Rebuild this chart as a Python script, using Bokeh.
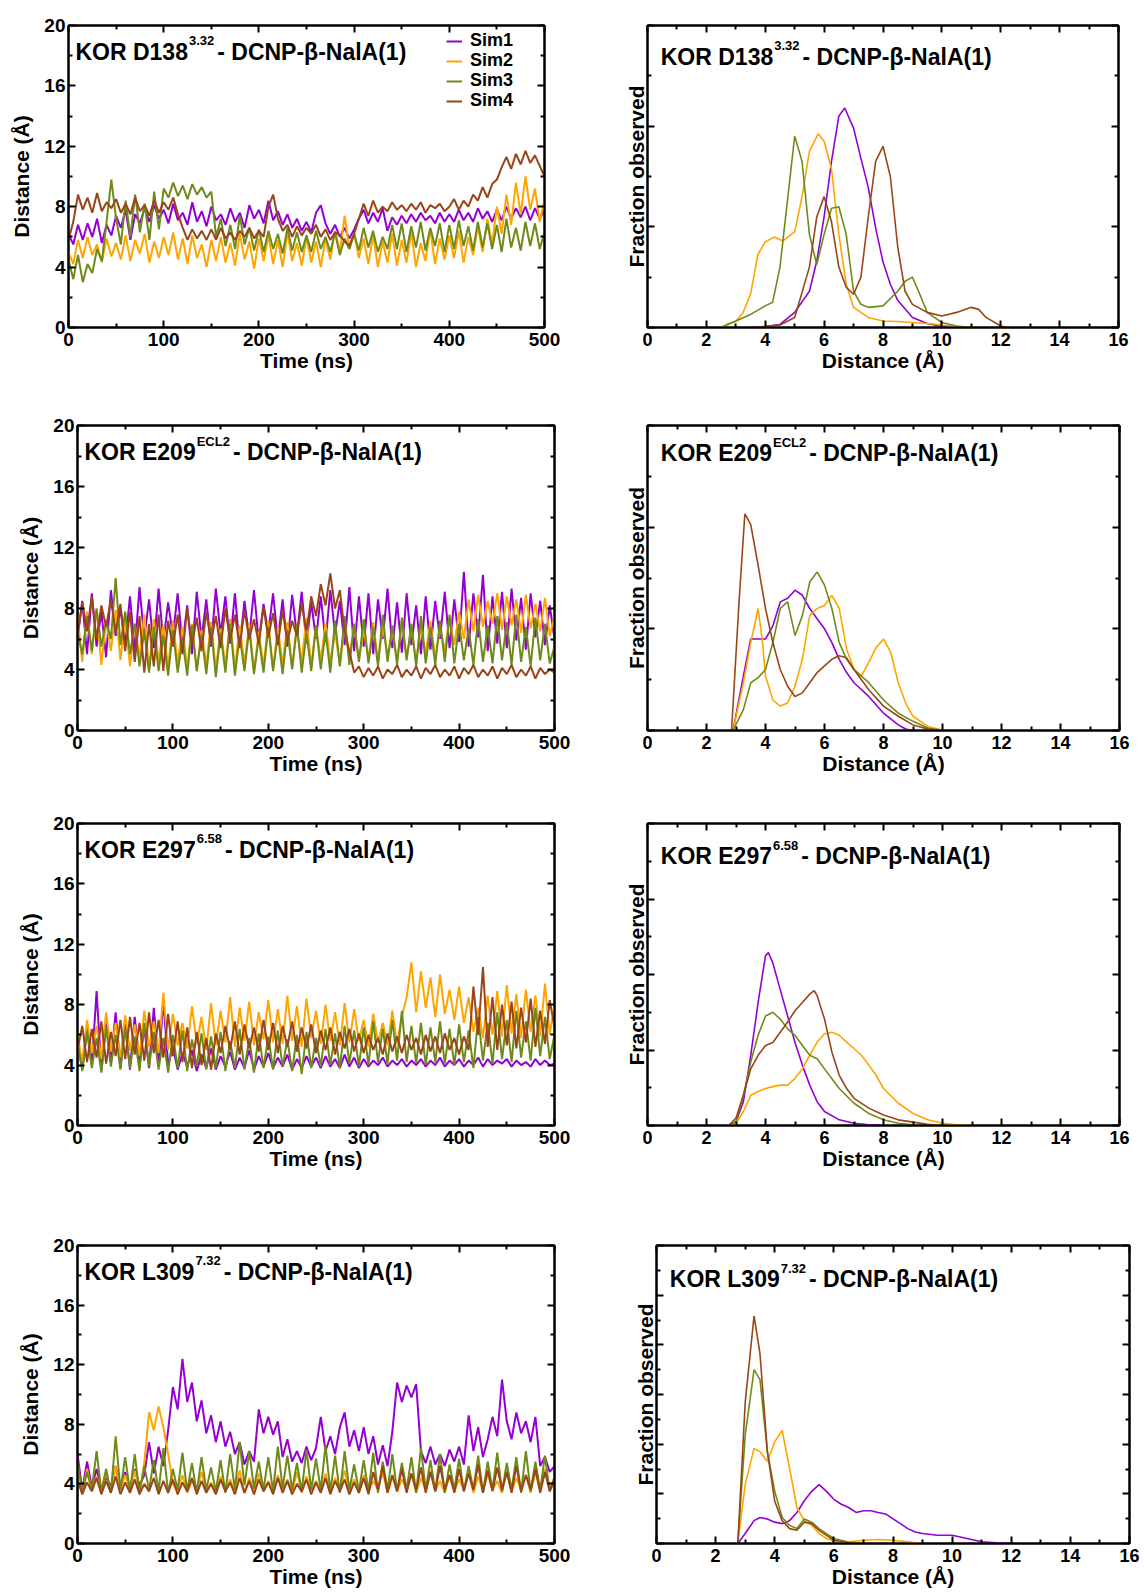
from bokeh.plotting import figure
from bokeh.models import Range1d, LinearAxis, FixedTicker, Label, Legend, LegendItem, Grid
from bokeh.layouts import column, row
from bokeh.embed import file_html
from bokeh.resources import INLINE

# ---------------- data ----------------
sim_names = ["Sim1", "Sim2", "Sim3", "Sim4"]
sim_colors = ["#9400D3", "#FFA500", "#6E8B1A", "#9A4519"]

time_ns = list(range(0, 505, 5))

# Panel 1: KOR D138(3.32)
d138_sim1 = [6.2,5.5,6.8,5.8,6.9,6.0,7.2,5.6,6.8,6.1,
             7.4,6.6,7.8,5.8,7.5,6.9,7.9,7.0,8.1,7.2,
             7.8,6.9,8.2,7.1,7.6,6.8,8.3,7.0,7.7,6.7,
             8.0,7.1,7.5,6.8,7.9,7.0,7.6,6.6,8.1,7.2,
             7.8,6.9,8.4,7.1,7.7,6.8,7.5,6.6,7.2,6.4,
             7.0,6.3,7.6,8.1,6.9,6.2,6.8,6.0,6.6,5.9,
             6.5,7.2,7.8,6.9,7.6,7.0,7.9,6.4,7.3,6.8,
             7.4,6.9,7.5,7.0,7.6,7.1,7.4,6.9,7.6,7.0,
             7.5,7.0,7.8,7.1,7.6,7.0,7.9,7.2,7.7,7.0,
             7.8,7.1,8.0,7.2,7.9,7.3,8.0,7.1,7.9,7.2,
             7.8]
d138_sim2 = [5.0,4.2,5.8,4.6,6.0,4.8,5.5,4.3,5.9,4.7,
             5.6,4.5,6.1,4.4,5.8,4.9,6.2,4.3,5.7,4.6,
             6.0,4.8,6.3,4.5,5.9,4.2,6.1,4.6,5.5,4.0,
             5.8,4.4,6.0,4.3,5.6,4.1,6.2,4.5,5.7,3.9,
             5.9,4.4,6.1,4.2,5.8,4.0,6.3,4.4,5.6,4.1,
             6.0,4.3,5.7,4.0,5.9,4.5,6.4,5.0,7.4,5.2,
             6.2,4.6,5.9,4.2,6.1,4.0,5.7,4.3,6.2,4.1,
             5.8,4.3,6.3,4.0,5.6,4.4,6.5,4.2,5.9,4.5,
             6.1,4.6,6.4,4.3,6.0,4.8,6.7,5.0,7.2,5.5,
             8.0,6.2,8.8,6.8,9.6,7.5,10.0,7.8,9.2,7.0,
             8.5]
d138_sim3 = [4.5,3.2,4.8,3.0,4.2,3.6,5.2,4.4,7.0,9.8,
             7.2,5.5,8.4,6.0,8.8,6.3,8.2,5.8,9.0,6.5,
             9.2,8.6,9.6,8.7,9.4,8.5,9.5,8.8,9.3,8.6,
             9.0,6.0,7.2,5.4,6.8,5.2,7.4,5.5,6.6,5.1,
             6.5,5.0,6.4,5.2,6.2,4.9,6.6,5.1,6.3,5.0,
             6.1,5.0,6.4,5.2,6.0,5.0,6.3,4.8,5.9,5.2,
             6.2,5.1,6.6,5.3,6.4,5.0,6.0,5.2,6.8,5.2,
             6.9,5.0,6.7,5.3,7.0,5.1,6.6,5.4,6.9,5.0,
             6.8,5.2,7.1,5.4,6.7,5.1,7.0,5.3,6.9,5.2,
             6.8,5.0,7.2,5.3,6.6,5.1,7.0,5.4,6.9,5.2,
             6.3]
d138_sim4 = [5.8,7.0,8.8,7.8,8.6,7.6,8.9,7.7,8.3,7.9,
             8.5,7.6,8.2,7.5,8.6,7.7,8.1,7.4,8.4,7.6,
             8.3,7.8,8.6,7.5,6.6,5.8,6.5,5.9,6.4,5.8,
             6.5,5.8,6.6,5.9,6.3,5.8,6.4,6.0,6.6,5.9,
             6.4,6.0,8.0,8.8,7.2,6.4,6.8,6.0,6.7,6.1,
             6.6,6.2,6.8,6.0,6.5,5.8,6.3,6.1,5.7,5.4,
             6.2,7.2,8.2,7.4,8.4,7.6,8.0,7.7,8.3,7.8,
             8.1,7.7,8.2,7.8,8.3,7.6,8.1,7.9,8.2,7.7,
             8.0,8.5,7.8,8.4,8.0,8.8,8.4,9.3,8.6,9.5,
             9.8,10.6,11.3,10.5,11.5,10.8,11.7,10.9,11.4,10.7,
             10.0]

# Panel 2: KOR E209(ECL2)
e209_sim1 = [6.0,8.5,5.0,9.0,5.5,7.8,4.8,9.2,6.2,8.0,
             5.6,8.8,5.2,9.4,6.0,8.6,5.4,9.3,5.8,8.4,
             6.2,9.0,5.6,8.2,5.0,9.1,6.0,8.6,5.5,9.3,
             6.3,8.8,5.7,9.0,5.4,8.5,6.1,9.2,5.8,8.3,
             6.4,9.0,5.9,8.6,5.5,8.9,6.2,9.1,5.7,8.4,
             6.0,8.8,5.8,9.2,6.3,8.5,5.6,9.4,5.2,8.8,
             5.5,9.0,5.0,8.6,6.0,9.3,5.4,8.4,5.1,9.0,
             5.6,8.2,5.0,8.8,5.3,8.5,6.0,9.1,5.4,8.6,
             5.8,10.4,5.5,9.0,6.1,10.2,5.2,8.8,5.7,9.1,
             5.4,9.3,5.9,8.7,5.3,9.0,6.1,8.5,5.6,8.2,
             6.0]
e209_sim2 = [7.5,4.5,7.8,5.0,8.0,4.3,7.2,5.2,7.9,4.6,
             7.4,4.2,7.0,4.8,7.6,4.0,7.3,4.5,6.9,4.1,
             7.2,4.4,6.8,4.1,7.0,3.9,6.6,4.3,7.1,4.0,
             6.7,4.2,7.3,4.1,6.9,4.4,7.0,3.9,6.5,4.2,
             7.2,4.0,6.8,4.3,7.1,4.1,6.6,4.5,7.4,4.2,
             6.9,4.6,7.0,4.5,6.4,4.3,6.8,4.8,7.0,4.6,
             6.6,4.7,7.1,4.5,6.8,4.9,6.5,4.6,7.0,4.8,
             6.7,4.5,6.9,5.0,7.2,4.7,6.8,5.2,7.4,5.6,
             7.8,6.0,8.6,6.5,8.9,6.8,8.5,7.0,9.0,6.6,
             8.8,6.9,8.6,6.4,8.9,6.7,8.3,6.5,8.7,6.2,
             7.5]
e209_sim3 = [6.5,5.0,7.5,5.2,8.0,5.5,7.2,6.0,10.0,5.6,
             7.8,5.0,7.0,4.2,6.5,3.8,6.8,3.9,6.2,3.6,
             6.6,3.8,6.0,3.6,6.9,3.9,6.3,3.7,6.8,3.5,
             6.4,3.8,7.0,3.6,6.2,3.9,6.7,3.7,6.1,3.8,
             6.8,3.9,6.3,3.7,6.6,4.0,7.0,3.8,6.4,3.9,
             6.9,4.0,6.5,3.8,7.2,4.2,7.5,4.3,7.0,4.5,
             7.3,4.4,6.8,4.2,7.6,4.5,6.9,4.3,7.4,4.6,
             7.0,4.2,7.5,4.4,6.8,4.3,7.2,4.5,7.6,4.4,
             7.0,4.6,6.7,4.3,7.3,4.5,6.9,4.4,7.5,4.6,
             7.1,4.3,7.6,4.5,6.8,4.2,7.4,4.6,7.0,4.4,
             5.5]
e209_sim4 = [6.2,8.4,6.5,8.8,6.0,8.2,6.8,8.6,6.4,8.3,
             5.2,7.8,4.5,7.5,3.8,7.0,4.2,7.6,3.9,7.2,
             5.5,7.6,5.0,8.0,5.6,7.4,5.2,7.8,5.8,7.5,
             5.4,8.0,5.9,7.6,5.5,7.9,6.0,7.3,5.7,8.1,
             6.1,7.7,5.6,7.9,5.8,7.2,6.2,8.3,6.5,8.8,
             7.5,9.6,8.2,10.3,8.0,9.2,6.5,5.2,3.8,4.2,
             3.5,4.1,3.6,4.2,3.4,4.0,3.7,4.3,3.5,4.0,
             3.6,4.2,3.4,4.1,3.7,4.3,3.5,4.0,3.6,4.2,
             3.4,4.1,3.7,4.3,3.5,4.0,3.6,4.2,3.4,4.1,
             3.7,4.3,3.5,4.0,3.6,4.2,3.4,4.1,3.7,4.0,
             3.8]

# Panel 3: KOR E297(6.58)
e297_sim1 = [5.5,3.7,6.5,4.0,8.9,3.6,6.8,4.2,7.5,3.8,
             6.9,3.7,7.2,4.1,6.5,3.8,7.8,3.9,8.3,4.0,
             5.2,3.7,4.8,3.9,5.0,3.6,4.7,3.8,5.1,3.7,
             4.6,3.9,4.9,3.7,4.5,3.8,5.0,3.7,4.6,3.9,
             4.8,3.8,4.5,3.9,4.7,3.7,4.4,3.8,4.6,3.9,
             4.5,3.8,4.6,3.9,4.4,3.8,4.7,3.9,4.5,3.8,
             4.4,3.9,4.3,4.0,4.5,3.9,4.3,4.0,4.4,3.9,
             4.3,4.0,4.4,3.9,4.3,4.0,4.5,3.9,4.3,4.0,
             4.4,3.9,4.3,4.0,4.5,3.9,4.4,4.0,4.3,4.1,
             4.4,3.9,4.3,4.0,4.2,3.9,4.4,4.0,4.3,4.0,
             4.1]
e297_sim2 = [6.0,4.2,7.0,4.8,6.6,4.4,7.5,4.9,6.8,4.5,
             7.3,5.0,6.7,4.6,7.6,5.2,6.9,4.8,8.8,5.0,
             7.4,5.3,6.8,5.1,7.9,5.4,7.2,5.0,8.1,5.3,
             7.6,5.5,8.5,5.2,7.8,5.6,8.2,5.3,7.5,5.7,
             8.3,5.5,7.7,5.4,8.6,5.6,7.9,5.2,8.4,5.8,
             7.6,5.4,8.0,5.6,7.5,5.3,8.1,5.5,7.7,5.6,
             7.0,5.2,7.4,5.5,6.8,5.3,7.6,5.4,7.2,8.5,
             10.8,7.5,10.2,7.8,9.8,7.2,10.0,7.4,9.0,7.0,
             9.2,6.8,8.5,6.2,7.8,5.8,8.6,6.0,8.9,5.9,
             9.3,6.1,8.7,5.8,9.0,6.2,8.6,5.9,9.4,6.0,
             8.0]
e297_sim3 = [5.5,3.6,6.2,3.8,5.8,3.5,6.5,3.9,6.0,3.7,
             6.4,3.8,5.9,3.6,6.8,3.9,6.2,3.7,5.8,3.5,
             6.0,3.8,6.3,3.6,5.7,3.9,6.1,3.7,5.9,3.8,
             6.2,3.6,5.6,3.8,6.4,3.7,5.8,3.5,6.1,3.8,
             5.9,3.7,6.3,3.9,5.7,3.6,6.0,3.4,6.2,3.8,
             5.8,3.9,6.4,4.0,6.1,3.8,6.6,4.1,6.3,3.9,
             6.5,4.0,6.9,4.2,6.4,4.1,7.0,4.3,7.6,4.2,
             6.6,4.1,6.8,4.0,6.5,4.2,6.9,4.1,6.4,4.0,
             6.7,4.2,6.3,3.8,7.2,4.3,6.8,4.1,7.5,4.4,
             7.0,4.2,7.6,4.5,6.9,4.3,7.8,4.6,7.2,4.4,
             6.0]
e297_sim4 = [5.0,6.6,4.2,6.4,4.5,6.9,4.1,6.2,4.6,7.0,
             4.4,7.2,4.7,6.8,4.3,7.5,4.8,7.0,4.5,7.4,
             4.6,6.9,4.2,6.5,3.8,6.2,4.0,5.8,3.7,6.1,
             4.8,6.6,5.0,6.9,4.7,6.7,5.1,6.5,4.9,7.0,
             5.0,6.8,4.8,6.6,5.2,6.9,4.9,6.5,5.1,6.7,
             4.8,6.3,5.0,6.5,4.7,6.2,5.1,6.4,4.9,6.1,
             4.8,6.0,5.0,5.8,4.7,6.1,4.9,5.9,4.8,6.0,
             5.0,5.8,4.7,6.0,4.9,5.9,4.8,6.1,5.0,5.8,
             4.7,5.9,5.0,9.2,6.0,10.5,5.2,8.5,5.0,8.0,
             5.3,8.2,5.1,7.8,5.5,8.4,5.2,7.6,5.4,8.3,
             6.5]

# Panel 4: KOR L309(7.32)
l309_sim1 = [6.0,3.6,5.5,3.8,5.0,3.6,4.5,3.8,5.2,3.7,
             4.8,3.7,5.0,3.9,4.6,6.8,4.7,6.5,5.2,7.6,
             10.5,9.0,12.4,9.5,10.8,8.2,9.6,7.4,8.6,6.8,
             8.2,6.5,7.5,6.0,6.8,5.3,6.2,5.5,9.0,7.4,
             8.5,7.3,8.2,5.8,7.0,5.5,6.2,5.4,6.5,5.6,
             6.4,8.5,6.2,7.2,6.0,7.8,8.8,6.5,7.6,6.2,
             7.8,6.0,7.2,5.3,6.6,5.2,7.5,10.8,9.5,10.6,
             9.8,10.7,6.2,5.4,6.5,5.3,6.0,5.2,6.3,5.5,
             6.5,5.3,8.6,6.2,7.8,5.8,7.0,8.5,7.2,11.0,
             8.2,7.0,8.8,7.4,8.2,6.8,8.5,5.2,5.8,4.8,
             5.2]
l309_sim2 = [4.2,3.4,5.0,3.6,4.5,3.5,4.8,3.4,5.2,3.6,
             4.6,3.5,4.9,3.4,5.4,8.8,7.6,9.2,7.8,6.0,
             4.0,3.5,4.6,3.4,4.2,3.6,4.8,3.5,4.1,3.4,
             4.5,3.6,4.3,3.5,4.9,3.4,4.4,3.6,4.7,3.5,
             4.2,3.4,4.6,3.6,4.3,3.5,4.8,3.4,4.5,3.6,
             4.2,3.5,4.7,3.4,4.4,3.6,4.9,3.5,4.3,3.4,
             4.6,3.5,4.2,3.6,4.8,3.4,4.5,3.5,4.3,3.6,
             4.7,3.4,4.4,3.6,4.9,3.5,4.2,3.4,4.6,3.5,
             4.3,3.6,4.8,3.4,4.5,3.5,4.7,3.6,4.2,3.4,
             4.9,3.5,4.4,3.6,4.6,3.4,4.8,3.5,5.0,3.6,
             4.5]
l309_sim3 = [5.5,3.4,4.8,3.6,6.2,3.5,5.0,3.4,7.2,3.6,
             5.8,3.5,6.0,3.4,5.2,3.6,5.6,3.5,6.4,3.4,
             5.0,3.6,6.1,3.5,5.4,3.4,5.8,3.6,5.1,3.5,
             5.6,3.4,6.0,3.6,6.8,3.9,6.2,3.7,5.5,3.6,
             5.8,3.5,6.5,3.7,5.9,3.6,5.4,3.5,6.3,3.6,
             5.7,3.6,6.6,3.5,5.9,3.4,6.2,3.6,5.3,3.5,
             5.6,3.5,6.1,3.4,5.5,3.6,6.0,3.5,5.4,3.6,
             5.8,3.4,6.4,3.6,5.6,3.5,6.0,3.4,5.3,3.6,
             5.7,3.5,5.2,3.6,5.9,3.4,5.5,3.6,6.1,3.5,
             5.4,3.6,5.8,3.4,6.2,3.5,5.5,3.6,5.9,3.5,
             4.2]
l309_sim4 = [4.3,3.3,4.1,3.5,4.4,3.3,4.2,3.4,4.5,3.3,
             4.1,3.4,4.3,3.3,4.0,3.5,4.4,3.3,4.2,3.4,
             4.3,3.3,4.1,3.5,4.4,3.3,4.2,3.4,4.0,3.3,
             4.3,3.5,4.1,3.3,4.4,3.4,4.2,3.3,4.3,3.5,
             4.1,3.3,4.4,3.4,4.2,3.3,4.0,3.5,4.3,3.3,
             4.1,3.4,4.4,3.3,4.2,3.5,4.3,3.3,4.1,3.4,
             4.4,3.3,4.8,3.6,5.2,3.4,4.6,3.5,5.0,3.4,
             4.7,3.6,5.1,3.4,4.8,3.5,5.2,3.6,4.6,3.4,
             5.0,3.5,4.7,3.6,5.3,3.4,4.9,3.5,5.1,3.6,
             4.8,3.4,5.2,3.5,4.6,3.6,5.0,3.4,4.8,3.5,
             4.4]

# Distance distributions (fraction observed, %)
d138_dist1_x = [3.5,4.0,4.5,5.0,5.5,5.75,6.0,6.25,6.5,6.7,7.0,7.25,7.5,7.75,8.0,8.25,8.5,9.0,9.5,10.0,10.5]
d138_dist1_y = [0,0.1,0.3,1.5,3.6,6.6,11.0,16.5,21.0,21.8,19.8,16.8,13.9,9.9,6.5,4.3,2.7,1.0,0.4,0.1,0]
d138_dist2_x = [2.5,2.75,3.0,3.25,3.5,3.75,4.0,4.3,4.6,5.0,5.25,5.5,5.8,6.0,6.25,6.5,6.75,7.0,7.5,8.0,8.5,9.0,9.5,10.0,10.5,11.0]
d138_dist2_y = [0,0.4,0.6,1.5,3.3,7.25,8.5,9.0,8.6,9.5,13.0,17.5,19.25,18.5,15.75,9.25,4.3,2.0,1.0,0.65,0.6,0.5,0.4,0.25,0.1,0]
d138_dist3_x = [2.5,3.0,3.5,4.0,4.25,4.5,4.75,5.0,5.25,5.5,5.75,6.0,6.25,6.5,6.75,7.0,7.25,7.5,8.0,8.5,8.75,9.0,9.25,9.5,10.0,10.5,11.0]
d138_dist3_y = [0,0.65,1.3,2.15,2.5,6.0,12.5,19.0,16.5,9.25,6.25,9.25,11.85,12.0,9.25,3.6,2.3,2.0,2.15,3.6,4.6,5.0,3.3,1.5,0.5,0.15,0]
d138_dist4_x = [3.5,4.0,4.5,5.0,5.5,5.75,6.0,6.25,6.5,6.75,7.0,7.25,7.5,7.75,8.0,8.25,8.5,8.75,9.0,9.5,10.0,10.5,11.0,11.25,11.5,12.0,12.25]
d138_dist4_y = [0,0.1,0.25,1.0,6.0,11.0,13.0,10.5,6.0,4.0,3.3,5.0,11.0,16.5,18.0,15.0,8.0,3.6,2.3,1.5,1.15,1.5,2.0,1.8,1.0,0.15,0]

e209_dist1_x = [2.9,3.25,3.5,3.75,4.0,4.25,4.5,4.75,5.0,5.25,5.5,5.75,6.0,6.25,6.5,6.75,7.0,7.5,8.0,8.5,8.75,9.0]
e209_dist1_y = [0,5.35,9.0,9.0,9.0,10.3,12.65,13.0,13.8,13.3,12.0,11.0,10.0,8.65,7.0,5.7,4.7,3.35,1.7,0.55,0.15,0]
e209_dist2_x = [2.9,3.25,3.5,3.75,3.9,4.0,4.25,4.5,4.75,5.0,5.25,5.5,5.75,6.0,6.25,6.5,6.75,7.0,7.25,7.5,7.75,8.0,8.25,8.5,8.75,9.0,9.5,10.0]
e209_dist2_y = [0,4.7,8.65,12.0,8.65,5.35,3.0,2.4,2.7,4.35,7.0,11.3,12.0,12.3,13.3,12.0,8.0,6.0,5.35,6.7,8.15,9.0,7.65,4.7,2.7,1.4,0.4,0.05]
e209_dist3_x = [2.9,3.25,3.5,3.75,4.0,4.25,4.5,4.75,5.0,5.25,5.5,5.75,6.0,6.25,6.5,6.75,7.0,7.5,8.0,8.5,9.0,9.5,10.0]
e209_dist3_y = [0,2.05,4.7,5.2,6.0,8.65,12.0,12.65,9.35,11.3,14.6,15.6,14.3,12.0,8.65,7.0,6.0,4.7,3.0,1.7,0.9,0.25,0]
e209_dist4_x = [2.85,3.1,3.3,3.5,3.75,4.0,4.25,4.5,4.75,5.0,5.25,5.5,5.75,6.0,6.25,6.5,6.75,7.0,7.5,8.0,8.5,9.0,9.5,10.0]
e209_dist4_y = [0,12.5,21.3,20.25,16.25,12.0,8.65,6.0,4.35,3.35,3.7,4.7,5.7,6.35,7.0,7.35,7.15,6.0,4.0,2.4,1.4,0.55,0.15,0]

e297_dist1_x = [2.75,3.0,3.25,3.5,3.75,4.0,4.1,4.25,4.5,4.75,5.0,5.25,5.5,5.75,6.0,6.5,7.0,7.5,8.0]
e297_dist1_y = [0,0.5,3.15,9.3,16.3,22.5,22.9,21.5,18.0,14.5,11.0,8.0,5.35,3.15,1.85,0.75,0.3,0.1,0]
e297_dist2_x = [2.75,3.0,3.25,3.5,3.75,4.0,4.25,4.5,4.75,5.0,5.25,5.5,5.75,6.0,6.25,6.5,6.75,7.0,7.25,7.5,7.75,8.0,8.5,9.0,9.5,10.0,10.5,11.0]
e297_dist2_y = [0,0.3,1.85,4.0,4.5,4.9,5.15,5.35,5.35,6.25,7.5,9.3,11.05,12.15,12.35,11.95,11.05,10.2,9.3,8.0,6.65,4.9,2.95,1.6,0.75,0.3,0.1,0]
e297_dist3_x = [2.75,3.0,3.25,3.5,3.75,4.0,4.25,4.5,4.75,5.0,5.25,5.5,5.75,6.0,6.5,7.0,7.5,8.0,8.5,9.0,9.5]
e297_dist3_y = [0,0.5,4.0,8.4,11.95,14.5,15.0,14.1,12.8,11.95,10.6,9.3,8.85,7.5,4.9,2.95,1.6,0.75,0.3,0.1,0]
e297_dist4_x = [2.75,3.0,3.25,3.5,3.75,4.0,4.25,4.5,4.75,5.0,5.25,5.5,5.65,5.75,6.0,6.25,6.5,6.75,7.0,7.5,8.0,8.5,9.0,9.5,10.0]
e297_dist4_y = [0,1.0,4.0,7.5,9.3,10.6,11.0,12.35,13.7,15.2,16.3,17.4,17.85,17.2,14.1,9.75,6.65,4.9,3.6,2.3,1.4,0.75,0.45,0.15,0]

l309_dist1_x = [2.75,3.0,3.3,3.5,3.75,4.0,4.25,4.5,4.75,5.0,5.25,5.5,5.75,6.0,6.25,6.5,6.75,7.0,7.25,7.5,7.75,8.0,8.25,8.5,8.75,9.0,9.5,10.0,10.5,11.0,11.5,12.0]
l309_dist1_y = [0,2.0,4.6,5.25,4.95,4.3,4.0,4.6,6.25,8.6,10.5,11.85,10.5,8.9,7.9,7.25,6.25,6.6,6.6,6.25,5.95,4.95,4.0,3.0,2.3,2.0,1.65,1.65,1.0,0.35,0.15,0]
l309_dist2_x = [2.75,3.0,3.3,3.5,3.75,4.0,4.25,4.5,4.75,5.0,5.25,5.5,5.75,6.0,6.5,7.0,7.5,8.0,8.5,9.0]
l309_dist2_y = [0,11.85,19.15,18.5,16.5,20.5,22.75,15.15,7.25,4.6,3.65,2.0,1.0,0.5,0.35,0.65,0.8,0.65,0.35,0]
l309_dist3_x = [2.75,3.0,3.3,3.5,3.75,4.0,4.25,4.5,4.75,5.0,5.25,5.5,5.75,6.0,6.5,7.0]
l309_dist3_y = [0,21.75,35.0,33.0,18.5,10.5,5.25,3.65,3.0,4.95,4.3,3.0,2.0,1.0,0.25,0.05]
l309_dist4_x = [2.75,3.0,3.3,3.5,3.75,4.0,4.25,4.5,4.75,5.0,5.25,5.5,5.75,6.0,6.5,7.0]
l309_dist4_y = [0,28.35,45.85,38.25,18.5,8.5,4.6,3.0,2.65,4.3,4.0,2.65,1.65,0.65,0.15,0]

titles = [("KOR D138", "3.32"), ("KOR E209", "ECL2"), ("KOR E297", "6.58"), ("KOR L309", "7.32")]
title_rest = "- DCNP-\u03b2-NalA(1)"

time_ticks = [0, 100, 200, 300, 400, 500]
time_minor = [50, 150, 250, 350, 450]
dist_ticks_y = [0, 4, 8, 12, 16, 20]
dist_minor_y = [2, 6, 10, 14, 18]
hist_ticks_x = [0, 2, 4, 6, 8, 10, 12, 14, 16]
hist_minor_x = [1, 3, 5, 7, 9, 11, 13, 15]
hist_ymax = [30, 30, 40, 60]

ts_sets = [
    [d138_sim1, d138_sim2, d138_sim3, d138_sim4],
    [e209_sim1, e209_sim2, e209_sim3, e209_sim4],
    [e297_sim1, e297_sim2, e297_sim3, e297_sim4],
    [l309_sim1, l309_sim2, l309_sim3, l309_sim4],
]
dist_sets = [
    [(d138_dist1_x, d138_dist1_y), (d138_dist2_x, d138_dist2_y), (d138_dist3_x, d138_dist3_y), (d138_dist4_x, d138_dist4_y)],
    [(e209_dist1_x, e209_dist1_y), (e209_dist2_x, e209_dist2_y), (e209_dist3_x, e209_dist3_y), (e209_dist4_x, e209_dist4_y)],
    [(e297_dist1_x, e297_dist1_y), (e297_dist2_x, e297_dist2_y), (e297_dist3_x, e297_dist3_y), (e297_dist4_x, e297_dist4_y)],
    [(l309_dist1_x, l309_dist1_y), (l309_dist2_x, l309_dist2_y), (l309_dist3_x, l309_dist3_y), (l309_dist4_x, l309_dist4_y)],
]

# ---------------- layout / style ----------------
FONT = "Liberation Sans"
CHAR_W = {' ': 278, '-': 333, '(': 333, ')': 333, '.': 278, 'A': 722, 'C': 722, 'D': 722,
          'E': 667, 'K': 722, 'L': 611, 'N': 722, 'O': 778, 'P': 667, 'R': 722, 'a': 556,
          'l': 278, '\u03b2': 611}


def text_w(s, size):
    return sum(CHAR_W.get(c, 556) for c in s) * size / 1000.0


# (width, height, left, right, top, bottom) borders in px
left_geo = [(600, 400, 68, 56, 24, 71), (600, 395, 77, 46, 25, 64),
            (600, 395, 77, 46, 28, 60), (600, 403, 77, 46, 55, 50)]
right_geo = [(544, 400, 47, 26, 25, 73), (544, 395, 47, 25, 14, 65),
             (544, 395, 47, 25, 18, 65), (544, 403, 56, 15, 46, 50)]
# distance of the right-panel title from the frame top, px
right_title_drop = [31, 29, 34, 35]


def style_axis(ax, ticker, labels, size, standoff=5):
    ax.ticker = ticker
    ax.axis_line_width = 2
    ax.axis_line_color = "black"
    ax.major_tick_line_width = 2
    ax.minor_tick_line_width = 2
    ax.major_tick_in = 7
    ax.major_tick_out = 0
    ax.minor_tick_in = 4
    ax.minor_tick_out = 0
    ax.major_label_text_font = FONT
    ax.major_label_text_font_style = "bold"
    if labels:
        ax.major_label_text_color = "black"
        ax.major_label_text_font_size = f"{size}px"
        ax.major_label_standoff = standoff
    else:
        ax.major_label_text_color = None
        ax.major_label_text_font_size = "1px"
        ax.major_label_standoff = 0
    ax.axis_label_text_font = FONT
    ax.axis_label_text_font_style = "bold"
    ax.axis_label_text_font_size = "21px"
    ax.axis_label_text_color = "black"


def make_fig(geo, xr, yr, xt, xm, yt, ym, xlabel, ylabel, ylabels, tick_size, ylabel_standoff):
    w, h, bl, br, bt, bb = geo
    p = figure(width=w, height=h, x_range=Range1d(*xr), y_range=Range1d(*yr),
               output_backend="svg", toolbar_location=None,
               x_axis_location=None, y_axis_location=None,
               min_border_left=bl, min_border_right=br, min_border_top=bt, min_border_bottom=bb)
    p.outline_line_color = "black"
    p.outline_line_width = 2
    p.background_fill_color = "white"
    p.border_fill_color = "white"
    xa = LinearAxis(axis_label=xlabel)
    style_axis(xa, FixedTicker(ticks=xt, minor_ticks=xm), True, tick_size, 5)
    xa.axis_label_standoff = 0
    p.add_layout(xa, "below")
    ya = LinearAxis(axis_label=ylabel)
    style_axis(ya, FixedTicker(ticks=yt, minor_ticks=ym), ylabels, tick_size, 3)
    ya.axis_label_standoff = ylabel_standoff
    p.add_layout(ya, "left")
    xa2 = LinearAxis()
    style_axis(xa2, FixedTicker(ticks=xt, minor_ticks=xm), False, tick_size)
    p.add_layout(xa2, "above")
    ya2 = LinearAxis()
    style_axis(ya2, FixedTicker(ticks=yt, minor_ticks=ym), False, tick_size)
    p.add_layout(ya2, "right")
    for r in list(p.center):
        if isinstance(r, Grid):
            r.visible = False
    return p


def add_title(p, x, y, main, sup, size=23, sup_size=13):
    w1 = text_w(main, size)
    w2 = text_w(sup, sup_size)
    common = dict(text_font=FONT, text_font_style="bold", text_color="black", text_baseline="middle")
    p.add_layout(Label(x=x, y=y, text=main, text_font_size=f"{size}px", **common))
    p.add_layout(Label(x=x, y=y, x_offset=w1 + 1, y_offset=11, text=sup,
                       text_font_size=f"{sup_size}px", **common))
    p.add_layout(Label(x=x, y=y, x_offset=w1 + w2 + 4, text=title_rest,
                       text_font_size=f"{size}px", **common))


rows = []
for i in range(4):
    # time series panel
    pl = make_fig(left_geo[i], (0, 500), (0, 20), time_ticks, time_minor, dist_ticks_y, dist_minor_y,
                  "Time (ns)", "Distance (\u00c5)", True, 19, 8)
    rends = []
    for s in range(4):
        r = pl.line(time_ns, ts_sets[i][s], line_color=sim_colors[s], line_width=2.0)
        rends.append(r)
    add_title(pl, 7.3, 18.25, titles[i][0], titles[i][1])
    if i == 0:
        fh = left_geo[0][1] - left_geo[0][4] - left_geo[0][5]
        for s in range(4):
            centre_from_top = 19 + 20 * s
            leg = Legend(items=[LegendItem(label=sim_names[s], renderers=[rends[s]])],
                         location=(378, fh - centre_from_top - 10), orientation="vertical")
            leg.border_line_color = None
            leg.background_fill_alpha = 0
            leg.label_text_font = FONT
            leg.label_text_font_style = "bold"
            leg.label_text_font_size = "18px"
            leg.label_text_color = "black"
            leg.glyph_width = 16
            leg.glyph_height = 16
            leg.label_height = 16
            leg.label_standoff = 8
            leg.spacing = 0
            leg.padding = 0
            leg.margin = 0
            pl.add_layout(leg, "center")

    # distribution panel
    ymax = hist_ymax[i]
    pr = make_fig(right_geo[i], (0, 16), (0, ymax), hist_ticks_x, hist_minor_x,
                  list(range(0, ymax + 1, 10)), list(range(5, ymax, 10)),
                  "Distance (\u00c5)", "Fraction observed", False, 18, 0)
    for s in range(4):
        xs, ys = dist_sets[i][s]
        pr.line(xs, ys, line_color=sim_colors[s], line_width=1.6)
    rfh = right_geo[i][1] - right_geo[i][4] - right_geo[i][5]
    add_title(pr, 0.45, ymax * (1 - right_title_drop[i] / rfh), titles[i][0], titles[i][1])
    rows.append(row(pl, pr, spacing=0))

layout = column(*rows, spacing=0)
open("out.html", "w").write(file_html(layout, INLINE))
